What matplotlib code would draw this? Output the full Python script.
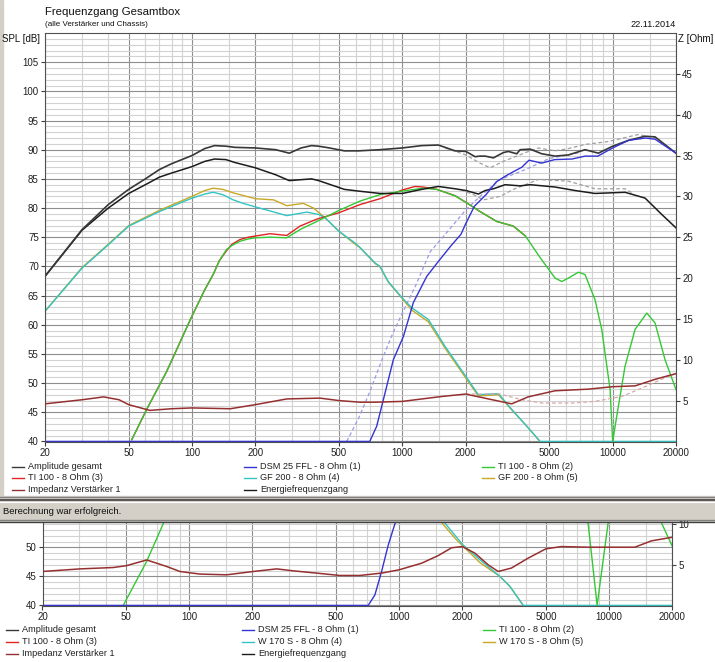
import numpy as np
import matplotlib
matplotlib.use("Agg")
import matplotlib.pyplot as plt
from matplotlib.patches import Rectangle
from matplotlib.lines import Line2D
from matplotlib.ticker import NullFormatter

plt.rcParams['font.family'] = ['Liberation Sans', 'DejaVu Sans']

W, H = 715, 662

# ---------------- data: upper window (GF 200 design) ----------------
amp_f = [20, 30, 40, 50, 60, 70, 80, 100, 115, 128, 145, 160, 200, 250, 290, 330, 370, 400, 450, 530, 620,
         783, 1000, 1236, 1483, 1782, 2005, 2218, 2340, 2474, 2710, 3020, 3191, 3500, 3630,
         4050, 4600, 5320, 6160, 7390, 8550, 10000, 11880, 14260, 15900, 20000]
amp_db = [68.3, 76.3, 80.6, 83.2, 85.0, 86.6, 87.6, 89.0, 90.2, 90.7, 90.6, 90.4, 90.3, 90.0, 89.4, 90.3, 90.7, 90.6, 90.3, 89.8, 89.8,
          90.0, 90.3, 90.7, 90.8, 89.8, 89.7, 88.8, 88.9, 88.9, 88.6, 89.5, 89.7, 89.3, 90.0,
          90.1, 89.3, 88.9, 89.1, 90.0, 89.4, 90.6, 91.6, 92.3, 92.2, 89.4]

efg_f = [20, 30, 40, 50, 60, 70, 80, 100, 115, 128, 145, 160, 200, 250, 290, 370, 400, 530, 620, 783, 1000, 1236,
         1483, 1782, 2005, 2300, 2474, 2710, 3080, 3630, 4050, 5320, 6630, 8240, 11450, 14260,
         17000, 20000]
efg_db = [68.3, 76.2, 80.0, 82.5, 84.0, 85.3, 86.0, 87.1, 88.0, 88.4, 88.3, 87.8, 86.9, 85.7, 84.7, 85.0, 84.7, 83.2, 82.9, 82.5, 82.5, 83.2,
          83.7, 83.3, 83.0, 82.4, 83.0, 83.3, 84.0, 83.8, 84.0, 83.6, 83.0, 82.5, 82.7, 81.7,
          79.0, 76.6]

dsm_f = [20, 700, 755, 813, 906, 1012, 1128, 1307, 1510, 1700, 1900, 2000, 2200, 2500, 2800, 3100,
         3400, 3700, 4000, 4600, 5300, 6400, 7400, 8500, 10000, 11900, 14300, 15900, 20000]
dsm_db = [40, 40, 42.6, 47.2, 54.0, 58.0, 63.8, 68.3, 71.2, 73.5, 75.5, 77.3, 80.3, 82.3, 84.5, 85.5,
          86.3, 87.0, 88.2, 87.7, 88.3, 88.4, 88.9, 88.9, 90.3, 91.6, 92.0, 91.8, 89.4]

ti2_f = [51.7, 60.9, 75.8, 100, 115, 126, 135, 146, 155, 169, 185, 200, 235, 282, 326, 392, 500, 630, 783, 1000,
         1257, 1458, 1782, 2000, 2340, 2810, 3370, 3850, 4520, 5320, 5730, 6160, 6870, 7390, 8240,
         8870, 9720, 10000, 10640, 11450, 12780, 14530, 15900, 17740, 20000]
ti2_db = [40.3, 45.5, 52.0, 61.5, 66.0, 68.6, 71.0, 72.9, 73.6, 74.3, 74.7, 74.9, 75.0, 74.9, 76.3, 77.7, 79.6, 81.2, 82.3, 82.9,
          83.4, 83.2, 82.1, 81.0, 79.4, 77.7, 76.9, 75.2, 71.5, 68.0, 67.4, 68.0, 69.0, 68.6, 64.3,
          59.2, 48.9, 40.0, 46.0, 52.9, 59.2, 62.0, 60.3, 54.0, 48.9]

ti3_f = [51.7, 60.9, 75.8, 100, 115, 126, 135, 146, 155, 169, 185, 200, 235, 282, 326, 392, 500, 630, 783, 1000,
         1149, 1257, 1458, 1782, 2000, 2340, 2810, 3370, 3850]
ti3_db = [40.3, 45.5, 52.0, 61.5, 66.0, 68.6, 71.0, 72.7, 73.8, 74.6, 75.0, 75.2, 75.6, 75.3, 76.9, 78.1, 79.2, 80.6, 81.6, 83.1,
          83.7, 83.6, 83.2, 82.1, 81.0, 79.4, 77.7, 76.9, 75.2]

gf4_f = [20, 30, 40, 50, 70, 100, 115, 126, 140, 157, 175, 200, 282, 351, 400, 430, 500, 596, 630, 741, 783,
         857, 993, 1109, 1330, 1595, 2000, 2297, 2863, 3311, 3840, 4517, 20000]
gf4_db = [62.3, 69.7, 73.7, 76.9, 79.4, 81.7, 82.4, 82.7, 82.3, 81.4, 80.8, 80.2, 78.7, 79.3, 78.9, 78.3, 76.0, 74.0, 73.2, 70.6, 70.0,
          67.4, 64.7, 62.9, 60.9, 56.3, 51.2, 48.0, 48.2, 45.5, 42.9, 40.0, 40.0]

gf5_f = [20, 30, 40, 50, 70, 100, 115, 126, 140, 157, 200, 244, 282, 338, 378, 430, 500, 596, 630, 741, 783,
         857, 993, 1109, 1330, 1595, 2000, 2297, 2863, 3311, 3840, 4517]
gf5_db = [62.3, 69.8, 73.8, 77.0, 79.6, 82.0, 83.0, 83.4, 83.2, 82.6, 81.6, 81.4, 80.4, 80.8, 80.0, 78.3, 76.0, 73.8, 73.2, 70.5, 69.9,
          67.3, 64.6, 62.5, 60.5, 56.0, 50.9, 47.8, 48.0, 45.4, 42.9, 40.0]

imp_f = [20, 30, 38, 45, 50, 63, 80, 100, 152, 200, 282, 406, 500, 630, 741, 1000, 1538, 2000,
         2565, 3311, 3960, 5320, 7670, 10000, 12780, 15900, 20000]
imp_ohm = [4.6, 5.1, 5.45, 5.1, 4.5, 3.8, 4.0, 4.1, 4.0, 4.5, 5.2, 5.3, 5.0, 4.8, 4.8, 4.9, 5.5, 5.8,
           5.2, 4.6, 5.45, 6.2, 6.4, 6.7, 6.8, 7.6, 8.3]

# dashed overlays (previous calculation)
old_amp_f = [1600, 2005, 2340, 2613, 3020, 3500, 3850, 4430, 5320, 6160, 7390, 9540, 13230, 16000]
old_amp_db = [90.3, 89.1, 87.7, 86.9, 88.0, 88.9, 89.5, 90.3, 89.8, 90.2, 90.9, 91.4, 92.6, 92.0]
old_efg_f = [1900, 2177, 2430, 2917, 3370, 3850, 4430, 6160, 8240, 11450, 12500]
old_efg_db = [83.1, 82.3, 81.4, 82.0, 83.2, 84.0, 84.9, 84.6, 83.3, 83.3, 82.5]
old_dsm_f = [544, 620, 700, 800, 900, 1000, 1150, 1355, 1600, 2005, 2340, 2917, 3850, 5000, 7000]
old_dsm_db = [40, 44, 48.5, 54, 58.5, 62, 66.5, 72.5, 75.5, 79.7, 82.0, 84.9, 86.6, 88.5, 89.5]
old_imp_f = [2000, 2400, 2860, 3700, 4600, 6400, 8240, 11040, 14260, 17740, 20000]
old_imp_ohm = [5.8, 5.8, 5.85, 5.1, 4.7, 4.7, 4.9, 5.5, 6.7, 7.8, 8.3]

# ---------------- data: lower window (W 170 S design) ----------------
b_imp_f = [20, 30.2, 43.5, 50.3, 62.7, 78, 90.3, 112.5, 150.7, 202, 261, 313, 404, 522, 650, 824,
           1000, 1279, 1535, 1777, 2000, 2295, 2655, 2960, 3425, 4112, 5000, 5930, 7940, 13250,
           15900, 20000]
b_imp_ohm = [4.18, 4.5, 4.67, 4.9, 5.6, 4.8, 4.18, 3.86, 3.77, 4.18, 4.5, 4.26, 3.98, 3.69, 3.69, 3.98,
             4.39, 5.2, 6.14, 7.1, 7.25, 6.44, 5.0, 4.18, 4.6, 5.82, 6.97, 7.25, 7.17, 7.17,
             7.95, 8.4]
b_dsm_f = [20, 712, 766, 824, 887, 955, 1000]
b_dsm_db = [40, 40, 41.8, 45.8, 50.4, 54.1, 56.5]
b_ti2_f = [48.5, 62.7, 75.2, 80, np.nan, 7600, 7940, 8770, 9890, 10300, np.nan, 17000, 17780, 20000]
b_ti2_db = [40, 47.6, 54.1, 57, np.nan, 57, 54.2, 40, 54.2, 57, np.nan, 57, 54.2, 50.2]
b_w4_f = [1600, 1651, 2017, 2421, 3018, 3366, 3900, 20000]
b_w4_db = [55, 54.2, 50.4, 47.9, 45.0, 43.3, 40.0, 40.0]
b_w5_f = [1560, 1600, 1876, 2017, 2421, 3018, 3366, 3900]
b_w5_db = [55, 54.2, 51.3, 50.2, 47.4, 45.0, 43.3, 40.0]

major_f = [20, 50, 100, 200, 500, 1000, 2000, 5000, 10000, 20000]
minor_f = [m * d for d in (10, 100, 1000, 10000) for m in (1, 1.5, 2, 3, 4, 5, 6, 7, 8, 9)
           if 20 <= m * d <= 20000]

C_AMP, C_DSM, C_TI2, C_TI3 = '#383838', '#3434d4', '#34c834', '#e02424'
C_GF4, C_GF5, C_IMP, C_EFG = '#34c4c4', '#c8a824', '#963030', '#1c1c1c'


def fx(x):
    return x / W


def fy(y):
    return 1 - y / H


def style(ax, ytop):
    ax.set_xscale('log')
    ax.set_xlim(20, 20000)
    ax.set_ylim(39.9, ytop)
    ax.set_xticks(major_f)
    ax.set_xticklabels([str(v) for v in major_f])
    ax.set_xticks(minor_f, minor=True)
    ax.xaxis.set_minor_formatter(NullFormatter())
    ax.set_yticks(np.arange(40, ytop - 0.5, 5))
    ax.set_yticks(np.arange(40, ytop, 1), minor=True)
    ax.grid(which='minor', color='#d2d2d2', lw=0.8)
    ax.grid(which='major', color='#8e8e8e', lw=0.8)
    ax.set_axisbelow(True)
    ax.tick_params(which='minor', length=0)
    ax.tick_params(which='major', length=3, width=0.8, color='#404040', pad=1.5,
                   labelsize=7, labelcolor='#202020')
    for s in ax.spines.values():
        s.set_color('#505050')
        s.set_linewidth(0.8)
    ax2 = ax.twinx()
    ax2.set_ylim((39.9 - 40) * 50 / 70, (ytop - 40) * 50 / 70)
    ax2.tick_params(length=3, width=0.8, color='#404040', pad=1.5, labelsize=7,
                    labelcolor='#202020')
    for s in ax2.spines.values():
        s.set_visible(False)
    return ax2


def legend(items, xs, ys):
    for i, (lab, col) in enumerate(items):
        x, y = xs[i % 3], ys[i // 3]
        fig.add_artist(Line2D([fx(x), fx(x + 12)], [fy(y), fy(y)], color=col, lw=1.0,
                              transform=fig.transFigure))
        fig.text(fx(x + 16), fy(y), lab, fontsize=6.6, va='center', ha='left', color='#202020')


fig = plt.figure(figsize=(W / 100, H / 100), dpi=100)
fig.patch.set_facecolor('white')

# window chrome
fig.add_artist(Rectangle((0, fy(500)), fx(3), 1 - fy(500), color='#d4d0c8', zorder=-2,
                         transform=fig.transFigure))
fig.add_artist(Rectangle((0, fy(521)), 1, fy(496) - fy(521), color='#d4d0c8', zorder=-2,
                         transform=fig.transFigure))
for yy, cc, lw in [(496.5, '#808080', 1.0), (500, '#404040', 1.2), (502, '#ffffff', 0.8),
                   (520, '#808080', 1.0), (521.5, '#404040', 1.0)]:
    fig.add_artist(Line2D([0, 1], [fy(yy), fy(yy)], color=cc, lw=lw, transform=fig.transFigure))
fig.text(fx(3), fy(511), 'Berechnung war erfolgreich.', fontsize=6.8, va='center', color='#101010')

# ---------------- upper window ----------------
ax = fig.add_axes([fx(45), fy(442), fx(676 - 45), (442 - 33) / H])
az = style(ax, 110)
ax.set_yticks(np.arange(40, 106, 5))
az.set_yticks(np.arange(5, 46, 5))

ax.plot(old_dsm_f, old_dsm_db, color='#9a9ae6', lw=0.9, ls=(0, (3, 2)))
ax.plot(old_amp_f, old_amp_db, color='#a0a0a0', lw=0.9, ls=(0, (3, 2)))
ax.plot(old_efg_f, old_efg_db, color='#a0a0a0', lw=0.9, ls=(0, (3, 2)))
ax.plot(gf5_f, gf5_db, color=C_GF5, lw=1.0)
ax.plot(gf4_f, gf4_db, color=C_GF4, lw=1.0)
ax.plot(ti3_f, ti3_db, color=C_TI3, lw=1.0)
ax.plot(ti2_f, ti2_db, color=C_TI2, lw=1.0)
ax.plot(efg_f, efg_db, color=C_EFG, lw=1.1)
ax.plot(amp_f, amp_db, color=C_AMP, lw=1.2)
ax.plot(dsm_f, dsm_db, color=C_DSM, lw=1.0)
az.plot(old_imp_f, old_imp_ohm, color='#d8aaaa', lw=0.9, ls=(0, (3, 2)))
az.plot(imp_f, imp_ohm, color=C_IMP, lw=1.1)

fig.text(fx(45), fy(12), 'Frequenzgang Gesamtbox', fontsize=8.2, va='center', color='#101010')
fig.text(fx(45), fy(24.5), '(alle Verstärker und Chassis)', fontsize=5.8, va='center', color='#101010')
fig.text(fx(676), fy(24.5), '22.11.2014', fontsize=6.6, va='center', ha='right', color='#101010')
fig.text(fx(2), fy(39), 'SPL [dB]', fontsize=7, va='center', ha='left', color='#101010')
fig.text(fx(678), fy(39), 'Z [Ohm]', fontsize=7, va='center', ha='left', color='#101010')

legend([('Amplitude gesamt', C_AMP), ('DSM 25 FFL - 8 Ohm (1)', C_DSM), ('TI 100 - 8 Ohm (2)', C_TI2),
        ('TI 100 - 8 Ohm (3)', C_TI3), ('GF 200 - 8 Ohm (4)', C_GF4), ('GF 200 - 8 Ohm (5)', C_GF5),
        ('Impedanz Verstärker 1', C_IMP), ('Energiefrequenzgang', C_EFG)],
       [12, 244, 482], [466.5, 478, 490])

# ---------------- lower window ----------------
bx = fig.add_axes([fx(42.5), fy(606), fx(672.3 - 42.5), (606 - 523.3) / H])
top_b = 40 + (606 - 523.3) / 5.84
bz = style(bx, top_b)
bz.set_yticks([5, 10])
bx.spines['top'].set_visible(False)

bx.plot(b_w5_f, b_w5_db, color=C_GF5, lw=1.0)
bx.plot(b_w4_f, b_w4_db, color=C_GF4, lw=1.0)
bx.plot(b_ti2_f, b_ti2_db, color=C_TI2, lw=1.0)
bx.plot(b_dsm_f, b_dsm_db, color=C_DSM, lw=1.0)
bz.plot(b_imp_f, b_imp_ohm, color=C_IMP, lw=1.1)

legend([('Amplitude gesamt', C_AMP), ('DSM 25 FFL - 8 Ohm (1)', C_DSM), ('TI 100 - 8 Ohm (2)', C_TI2),
        ('TI 100 - 8 Ohm (3)', C_TI3), ('W 170 S - 8 Ohm (4)', C_GF4), ('W 170 S - 8 Ohm (5)', C_GF5),
        ('Impedanz Verstärker 1', C_IMP), ('Energiefrequenzgang', C_EFG)],
       [6, 242, 483], [630, 642, 654])

fig.savefig('out.png', dpi=100)
